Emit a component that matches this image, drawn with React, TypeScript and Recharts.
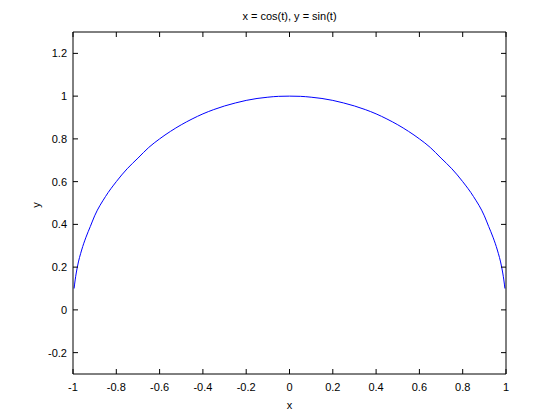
import React from "react";
import { LineChart, Line, XAxis, YAxis } from "recharts";

const xValues = [
  -0.995, -0.99, -0.98, -0.96, -0.94, -0.92, -0.9, -0.85, -0.8, -0.75, -0.7,
  -0.65, -0.6, -0.55, -0.5, -0.45, -0.4, -0.35, -0.3, -0.25, -0.2, -0.15, -0.1,
  -0.05, 0, 0.05, 0.1, 0.15, 0.2, 0.25, 0.3, 0.35, 0.4, 0.45, 0.5, 0.55, 0.6,
  0.65, 0.7, 0.75, 0.8, 0.85, 0.9, 0.92, 0.94, 0.96, 0.98, 0.99, 0.995,
];
const yValues = [
  0.1, 0.14, 0.2, 0.28, 0.34, 0.39, 0.44, 0.53, 0.6, 0.66, 0.71, 0.76, 0.8,
  0.835, 0.866, 0.893, 0.917, 0.937, 0.954, 0.968, 0.98, 0.989, 0.995, 0.999,
  1.0, 0.999, 0.995, 0.989, 0.98, 0.968, 0.954, 0.937, 0.917, 0.893, 0.866,
  0.835, 0.8, 0.76, 0.71, 0.66, 0.6, 0.53, 0.44, 0.39, 0.34, 0.28, 0.2, 0.14,
  0.1,
];
const xTicks = [-1, -0.8, -0.6, -0.4, -0.2, 0, 0.2, 0.4, 0.6, 0.8, 1];
const yTicks = [-0.2, 0, 0.2, 0.4, 0.6, 0.8, 1, 1.2];

const data = xValues.map((x, i) => ({ x, y: yValues[i] }));

const FONT = '"Liberation Sans", Arial, Helvetica, sans-serif';
const TICK = 5;

const BottomTick = (p: any) => (
  <g>
    <line x1={p.x} x2={p.x} y1={p.y} y2={p.y - TICK} stroke="#000" />
    <text x={p.x} y={p.y + 17} textAnchor="middle" fontSize={11} fontFamily={FONT} fill="#000">
      {String(p.payload.value)}
    </text>
  </g>
);

const TopTick = (p: any) => (
  <line x1={p.x} x2={p.x} y1={p.y} y2={p.y + TICK} stroke="#000" />
);

const LeftTick = (p: any) => (
  <g>
    <line x1={p.x} x2={p.x + TICK} y1={p.y} y2={p.y} stroke="#000" />
    <text x={p.x - 6} y={p.y + 4} textAnchor="end" fontSize={11} fontFamily={FONT} fill="#000">
      {String(p.payload.value)}
    </text>
  </g>
);

const RightTick = (p: any) => (
  <line x1={p.x} x2={p.x - TICK} y1={p.y} y2={p.y} stroke="#000" />
);

const textStyle: React.CSSProperties = {
  position: "absolute",
  fontFamily: FONT,
  fontSize: 11,
  lineHeight: 1,
  whiteSpace: "nowrap",
  color: "#000",
};

export default function App() {
  return (
    <div style={{ position: "relative", width: 544, height: 404, background: "#fff" }}>
      <LineChart
        width={544}
        height={404}
        data={data}
        margin={{ top: 23, right: 45, left: 0, bottom: 0 }}
      >
        <XAxis
          dataKey="x"
          type="number"
          domain={[-1, 1]}
          ticks={xTicks}
          allowDataOverflow
          height={38}
          tickSize={0}
          tickMargin={0}
          tickLine={false}
          axisLine={{ stroke: "#000" }}
          tick={BottomTick}
          interval={0}
        />
        <XAxis
          xAxisId="top"
          orientation="top"
          dataKey="x"
          type="number"
          domain={[-1, 1]}
          ticks={xTicks}
          allowDataOverflow
          height={1}
          tickSize={0}
          tickMargin={0}
          tickLine={false}
          axisLine={{ stroke: "#000" }}
          tick={TopTick}
          interval={0}
        />
        <YAxis
          type="number"
          domain={[-0.3, 1.3]}
          ticks={yTicks}
          allowDataOverflow
          width={65}
          tickSize={0}
          tickMargin={0}
          tickLine={false}
          axisLine={{ stroke: "#000" }}
          tick={LeftTick}
          interval={0}
        />
        <YAxis
          yAxisId="right"
          orientation="right"
          type="number"
          domain={[-0.3, 1.3]}
          ticks={yTicks}
          allowDataOverflow
          width={1}
          tickSize={0}
          tickMargin={0}
          tickLine={false}
          axisLine={{ stroke: "#000" }}
          tick={RightTick}
          interval={0}
        />
        <Line
          dataKey="y"
          type="monotone"
          stroke="#0000ff"
          strokeWidth={1}
          dot={false}
          isAnimationActive={false}
        />
        <Line
          xAxisId="top"
          yAxisId="right"
          dataKey="y"
          stroke="none"
          dot={false}
          isAnimationActive={false}
        />
      </LineChart>
      <div style={{ ...textStyle, left: 281.5, top: 8, transform: "translate(-50%, -50%)" }}>
        x = cos(t), y = sin(t)
      </div>
      <div style={{ ...textStyle, left: 281.5, top: 397, transform: "translate(-50%, -50%)" }}>
        x
      </div>
      <div
        style={{
          ...textStyle,
          left: 28,
          top: 197,
          transform: "translate(-50%, -50%) rotate(-90deg)",
        }}
      >
        y
      </div>
    </div>
  );
}
